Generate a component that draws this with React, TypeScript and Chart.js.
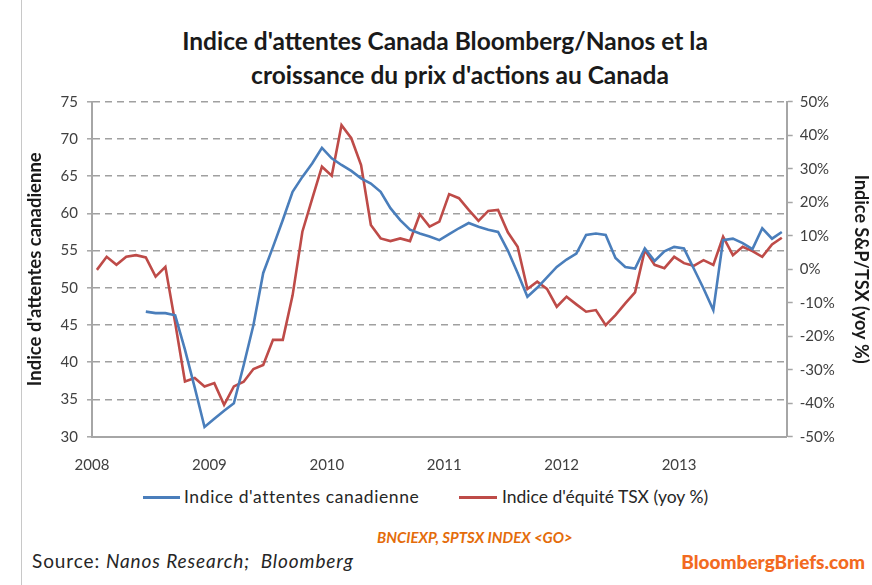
import React, { useEffect, useRef } from "react";
import { Chart, registerables } from "chart.js";

Chart.register(...registerables);

// Monthly categories, Jan 2008 – Nov 2013
const months: string[] = [
  "2008-01","2008-02","2008-03","2008-04","2008-05","2008-06","2008-07","2008-08","2008-09","2008-10","2008-11","2008-12",
  "2009-01","2009-02","2009-03","2009-04","2009-05","2009-06","2009-07","2009-08","2009-09","2009-10","2009-11","2009-12",
  "2010-01","2010-02","2010-03","2010-04","2010-05","2010-06","2010-07","2010-08","2010-09","2010-10","2010-11","2010-12",
  "2011-01","2011-02","2011-03","2011-04","2011-05","2011-06","2011-07","2011-08","2011-09","2011-10","2011-11","2011-12",
  "2012-01","2012-02","2012-03","2012-04","2012-05","2012-06","2012-07","2012-08","2012-09","2012-10","2012-11","2012-12",
  "2013-01","2013-02","2013-03","2013-04","2013-05","2013-06","2013-07","2013-08","2013-09","2013-10","2013-11",
];

const yearLabels: string[] = ["2008", "2009", "2010", "2011", "2012", "2013"];

// Indice d'attentes canadienne (left axis)
const expectations: (number | null)[] = [
  null, null, null, null, null,
  46.8, 46.6, 46.6, 46.3, 41.7, 36.6, 31.3,
  32.4, 33.5, 34.5, 39.6, 45.0, 52.0, 55.5, 59.1, 62.9, 64.9, 66.7, 68.8,
  67.4, 66.5, 65.7, 64.7, 64.0, 62.9, 60.7, 59.1, 57.8, 57.3, 56.9, 56.4,
  57.2, 58.0, 58.7, 58.2, 57.8, 57.5, 55.0, 52.0, 48.8, 50.0, 51.4, 52.8,
  53.8, 54.6, 57.1, 57.3, 57.1, 54.0, 52.8, 52.6, 55.3, 53.6, 54.9, 55.5,
  55.3, 52.6, 49.9, 47.0, 56.4, 56.6, 56.0, 55.2, 58.0, 56.6, 57.5,
];

// Indice d'équité TSX (yoy %) (right axis)
const tsxYoy: number[] = [
  -0.2, 3.7, 1.3, 3.7, 4.2, 3.5, -2.2, 0.7, -16.0, -33.5, -32.5, -35.0,
  -34.0, -40.5, -35.0, -33.6, -29.8, -28.6, -21.1, -21.1, -7.8, 11.2, 21.0, 30.6,
  27.9, 43.0, 39.1, 31.1, 13.2, 9.2, 8.4, 9.2, 8.4, 16.4, 12.7, 14.2,
  22.4, 21.2, 17.7, 14.4, 17.4, 17.7, 11.0, 6.7, -5.9, -3.7, -5.9, -11.2,
  -8.2, -10.5, -12.7, -12.2, -16.7, -13.7, -10.2, -6.9, 5.7, 1.3, 0.3, 3.7,
  1.8, 1.0, 2.7, 1.3, 9.7, 4.2, 6.7, 5.4, 3.7, 7.4, 9.4,
];

const BLUE = "#4a7ebb";
const RED = "#be4b48";
const AXIS_GRAY = "#a6a6a6";
const GRID_GRAY = "#a0a0a0";
const FONT = "Lato, 'Noto Sans', sans-serif";

export default function App() {
  const canvasRef = useRef<HTMLCanvasElement | null>(null);

  useEffect(() => {
    document.body.style.margin = "0";
    const canvas = canvasRef.current;
    if (!canvas) return;
    const toPoints = (arr: (number | null)[]) =>
      arr.map((v, i) => ({ x: i + 0.5, y: v }));

    const chart = new Chart(canvas, {
      type: "line",
      data: {
        labels: months,
        datasets: [
          {
            label: "Indice d'attentes canadienne",
            data: toPoints(expectations) as any,
            borderColor: BLUE,
            backgroundColor: BLUE,
            borderWidth: 2.6,
            pointRadius: 0,
            tension: 0,
            yAxisID: "yL",
            xAxisID: "x",
            spanGaps: false,
          },
          {
            label: "Indice d'équité TSX (yoy %)",
            data: toPoints(tsxYoy) as any,
            borderColor: RED,
            backgroundColor: RED,
            borderWidth: 2.6,
            pointRadius: 0,
            tension: 0,
            yAxisID: "yR",
            xAxisID: "x",
          },
        ],
      },
      options: {
        animation: false,
        responsive: false,
        maintainAspectRatio: false,
        layout: { padding: { top: 101.7, left: 0, right: 0, bottom: 3.3 } },
        plugins: {
          legend: { display: false },
          title: { display: false },
          tooltip: { enabled: false },
        },
        scales: {
          x: {
            type: "linear",
            position: "bottom",
            min: 0,
            max: months.length,
            afterBuildTicks: (scale: any) => {
              scale.ticks = yearLabels.map((_, i) => ({ value: i * 12 }));
            },
            afterFit: (scale: any) => {
              scale.height = 40;
            },
            grid: { display: true, drawOnChartArea: false, drawTicks: false },
            border: { display: true, color: AXIS_GRAY, width: 2 },
            ticks: {
              padding: 19,
              maxRotation: 0,
              autoSkip: false,
              color: "#404040",
              font: { family: FONT, size: 15 },
              callback: (v: any) => yearLabels[Math.round(Number(v) / 12)] ?? "",
            },
          },
          yL: {
            type: "linear",
            position: "left",
            min: 30,
            max: 75,
            afterFit: (scale: any) => {
              scale.width = 92;
            },
            grid: {
              color: GRID_GRAY,
              lineWidth: 1.6,
              tickLength: 5,
              tickColor: AXIS_GRAY,
              tickWidth: 1.5,
              tickBorderDash: [],
            },
            border: { display: true, color: AXIS_GRAY, width: 2, dash: [7, 5] },
            ticks: {
              stepSize: 5,
              padding: 9,
              color: "#404040",
              font: { family: FONT, size: 15 },
            },
            title: {
              display: true,
              text: "Indice d'attentes canadienne",
              color: "#1a1a1a",
              font: { family: FONT, size: 18.5, weight: "bold" },
              padding: { top: 23.5, bottom: 0 },
            },
          },
          yR: {
            type: "linear",
            position: "right",
            min: -50,
            max: 50,
            afterFit: (scale: any) => {
              scale.width = 872 - 786.7;
            },
            grid: {
              drawOnChartArea: false,
              tickLength: 6,
              tickColor: AXIS_GRAY,
              tickWidth: 1.5,
            },
            border: { display: true, color: AXIS_GRAY, width: 2 },
            ticks: {
              stepSize: 10,
              padding: 7,
              color: "#404040",
              font: { family: FONT, size: 15 },
              callback: (v: any) => `${v}%`,
            },
            title: {
              display: true,
              text: "Indice S&P/TSX (yoy %)",
              color: "#1a1a1a",
              font: { family: FONT, size: 18, weight: "bold" },
              padding: { top: 0, bottom: 0 },
            },
          },
        },
      },
    });
    return () => chart.destroy();
  }, []);

  return (
    <div
      style={{
        position: "fixed",
        left: 0,
        top: 0,
        width: 872,
        height: 585,
        background: "#ffffff",
        fontFamily: FONT,
        overflow: "hidden",
      }}
    >
      <div
        style={{
          position: "absolute",
          left: 21,
          top: 0,
          width: 1,
          height: 585,
          background: "#c8c8c8",
        }}
      />
      <div
        style={{
          position: "absolute",
          left: 0,
          width: 890,
          top: 24,
          textAlign: "center",
          fontWeight: 700,
          fontSize: 24.5,
          lineHeight: "34px",
          color: "#1a1a1a",
        }}
      >
        <div>Indice d'attentes Canada Bloomberg/Nanos et la</div>
        <div style={{ paddingLeft: 30 }}>croissance du prix d'actions au Canada</div>
      </div>
      <canvas
        ref={canvasRef}
        width={872}
        height={480}
        style={{ position: "absolute", left: 0, top: 0, width: 872, height: 480 }}
      />
      {/* Legend */}
      <div
        style={{
          position: "absolute",
          top: 486,
          left: 0,
          height: 22,
          width: 872,
          fontSize: 17.5,
          color: "#262626",
        }}
      >
        <div style={{ position: "absolute", left: 143, top: 10, width: 37, height: 3, background: BLUE }} />
        <div style={{ position: "absolute", left: 184, top: 0, lineHeight: "22px", whiteSpace: "nowrap", letterSpacing: 0.6 }}>
          Indice d'attentes canadienne
        </div>
        <div style={{ position: "absolute", left: 459, top: 10, width: 38, height: 3, background: RED }} />
        <div style={{ position: "absolute", left: 502, top: 0, lineHeight: "22px", whiteSpace: "nowrap" }}>
          Indice d'équité TSX (yoy %)
        </div>
      </div>
      <div
        style={{
          position: "absolute",
          top: 528,
          left: 377,
          fontSize: 15,
          fontWeight: 700,
          fontStyle: "italic",
          color: "#e46c0a",
          whiteSpace: "nowrap",
          lineHeight: "18px",
        }}
      >
        BNCIEXP, SPTSX INDEX &lt;GO&gt;
      </div>
      <div
        style={{
          position: "absolute",
          top: 549,
          left: 32,
          fontSize: 19,
          color: "#262626",
          whiteSpace: "nowrap",
          lineHeight: "24px",
          letterSpacing: 0.9,
        }}
      >
        Source: <i>Nanos Research;&nbsp; Bloomberg</i>
      </div>
      <div
        style={{
          position: "absolute",
          top: 550,
          right: 7,
          fontSize: 19,
          fontWeight: 900,
          color: "#f26a21",
          whiteSpace: "nowrap",
          lineHeight: "24px",
        }}
      >
        BloombergBriefs.com
      </div>
    </div>
  );
}
